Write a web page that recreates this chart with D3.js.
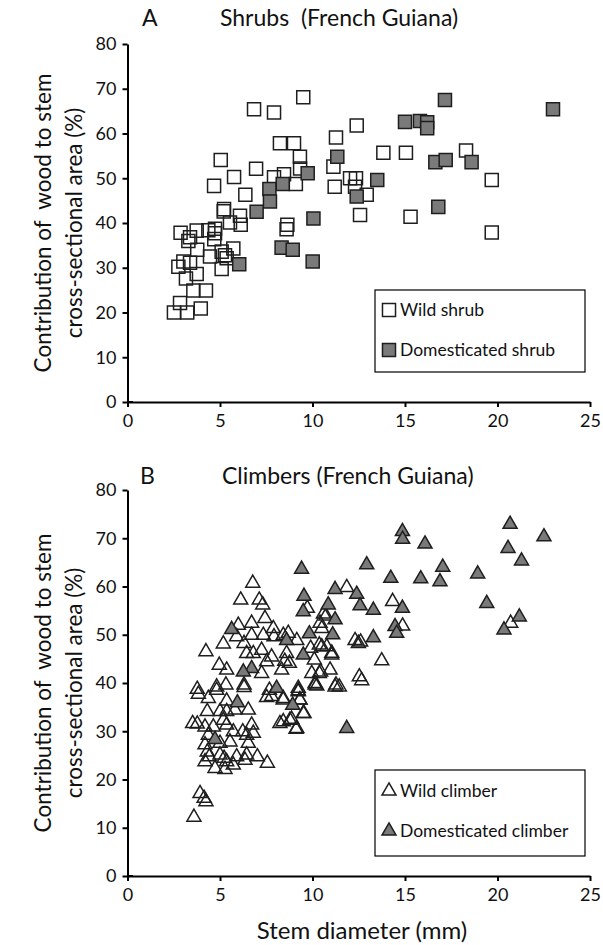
<!DOCTYPE html>
<html><head><meta charset="utf-8">
<script src="https://cdn.jsdelivr.net/npm/d3@7/dist/d3.min.js"></script>
<style>
html,body{margin:0;padding:0;background:#fff;}
text{font-family:Lato,"Open Sans",sans-serif;fill:#111;}
</style></head>
<body><svg id="c" width="603" height="945"></svg>
<script>
// ---------- DATA ----------
const xTicks = [0, 5, 10, 15, 20, 25];
const yTicks = [0, 10, 20, 30, 40, 50, 60, 70, 80];
const yTitle1 = "Contribution of  wood to stem";
const yTitle2 = "cross-sectional area (%)";
const xTitle = "Stem diameter (mm)";
const titleA = "Shrubs  (French Guiana)";
const titleB = "Climbers (French Guiana)";
const legendA = ["Wild shrub", "Domesticated shrub"];
const legendB = ["Wild climber", "Domesticated climber"];

const shrubWild = [[9.5,68.1],[6.84,65.4],[7.92,64.7],[8.24,57.8],[9.0,57.8],[11.27,59.1],[12.39,61.8],[9.32,54.8],[5.04,54.1],[6.95,52.1],[11.13,52.6],[9.33,52.2],[5.76,50.3],[7.92,50.2],[8.46,50.9],[9.1,48.7],[4.68,48.3],[11.2,48.1],[12.03,50],[12.35,50],[12.3,48.1],[6.37,46.3],[12.57,41.8],[5.22,43.1],[5.2,42.6],[6.08,41.6],[6.12,39.6],[5.54,40.1],[8.64,39.6],[8.6,38.6],[2.87,37.8],[3.74,38.3],[4.37,38.4],[4.73,38.7],[3.38,36.8],[3.29,36.0],[4.69,36.4],[3.77,34.0],[5.72,34.3],[4.46,32.5],[5.09,33.6],[5.27,32.8],[5.36,32.1],[5.09,29.7],[2.75,30.2],[3.02,31.4],[3.38,31.1],[3.74,28.6],[3.16,27.6],[3.56,24.9],[4.24,24.9],[2.84,22.1],[2.51,20.0],[3.23,20.0],[3.96,20.9],[13.83,55.7],[15.05,55.7],[18.3,56.2],[19.69,49.6],[15.3,41.4],[19.69,37.9],[12.93,46.3],[4.73,37.7]];
const shrubDom = [[11.34,54.8],[9.74,51.1],[8.39,48.7],[7.67,47.6],[7.7,44.8],[6.98,42.5],[10.05,41.0],[12.39,45.9],[17.16,67.5],[23.0,65.4],[15.0,62.6],[15.81,62.8],[16.2,62.5],[16.2,61.2],[16.64,53.6],[17.2,54.1],[18.6,53.6],[13.5,49.6],[16.8,43.6],[6.04,30.8],[8.33,34.5],[8.93,34.0],[10.01,31.4]];

const climberWild = [[11.85,59.8],[14.33,56.9],[14.87,51.8],[20.71,52.4],[13.74,44.6],[12.3,48.8],[12.6,48.5],[10.73,53.9],[10.59,54.3],[11.04,46.2],[10.37,47.9],[10.77,47.5],[10.44,42.3],[10.95,42.7],[10.14,39.6],[11.27,39.6],[12.53,41.3],[12.66,40.5],[9.72,55.5],[10.5,51.3],[10.41,52.4],[10.37,42.0],[10.23,39.4],[11.22,39.2],[11.45,39.2],[11.04,45.8],[10.5,47.5],[12.48,48.2],[9.23,38.2],[9.5,33.7],[9.15,30.6],[8.87,32.5],[9.32,36.5],[8.42,36.5],[8.42,32.0],[8.6,46.1],[8.5,44.5],[9.9,47.2],[10.1,44.8],
[6.77,60.7],[6.12,57.2],[7.12,57.2],[7.31,56.2],[7.43,53.4],[5.99,52.0],[6.71,52.4],[5.18,48.1],[4.24,46.5],[6.3,48.2],[6.71,49.9],[7.34,49.9],[7.88,51.3],[7.92,49.6],[8.42,49.9],[8.69,50.3],[9.15,48.8],[5.9,49.6],[6.44,46.1],[6.8,46.1],[7.25,46.8],[7.79,45.4],[8.75,44.1],[4.96,43.7],[5.36,42.7],[7.25,42.0],[7.52,44.4],[8.33,42.7],[9.96,42.0],[10.14,39.9],[3.77,38.7],[4.82,39.2],[5.32,39.6],[6.3,39.6],[7.67,38.5],[9.23,38.9],
[3.83,37.7],[4.37,36.8],[4.82,38.5],[6.3,39.1],[5.36,36.3],[4.31,34.1],[5.0,34.1],[5.36,34.1],[5.81,34.4],[6.53,34.4],[7.52,37.0],[7.79,37.2],[8.42,36.8],[9.23,38.4],[9.32,36.5],[9.54,33.7],[8.78,32.3],[8.24,31.6],[9.11,30.4],[3.52,31.6],[3.77,31.5],[4.19,30.9],[4.64,30.9],[5.18,32.3],[5.36,31.3],[5.72,29.9],[6.23,29.9],[6.71,31.3],[6.8,29.6],[6.44,29.2],[4.37,29.2],[4.19,27.2],[5.0,27.5],[5.54,27.8],[6.53,27.5],[4.31,25.7],[4.42,24.7],[4.19,23.7],[5.0,25.1],[5.22,24.4],[5.36,23.7],[5.72,23.0],[4.73,22.3],[5.27,22.1],[5.9,24.7],[6.35,24.0],[6.44,25.1],[7.02,24.7],[7.56,23.4],[3.92,17.1],[4.14,16.1],[4.24,15.4],[3.59,12.2]];
const climberDom = [[20.68,72.9],[22.51,70.3],[14.86,71.4],[14.87,69.8],[16.08,68.8],[20.57,67.9],[21.3,65.3],[12.93,64.5],[17.04,64.0],[18.93,62.6],[14.23,61.7],[15.85,61.6],[16.89,61.0],[9.41,63.6],[11.22,59.4],[12.39,58.4],[9.54,58.0],[10.85,56.2],[9.5,54.8],[12.57,56.0],[13.29,55.1],[14.86,55.5],[19.42,56.5],[21.18,53.7],[20.35,51.0],[11.22,53.1],[14.46,51.7],[14.55,50.3],[13.29,49.4],[11.09,50.0],[9.83,50.2],[9.5,45.8],[5.63,51.1],[8.6,48.8],[6.71,43.0],[6.26,42.3],[8.06,38.9],[11.85,30.6],[8.93,35.4],[5.94,35.9],[4.73,28.3]];

// ---------- DRAW ----------
const svg = d3.select("#c");
const gray = "#7a7a7a", stroke = "#1e1e1e";
const FONT = "Lato,'Open Sans',sans-serif";

function axisTitleY(cy) {
  svg.append("text").attr("transform", `translate(51,${cy}) rotate(-90)`)
    .attr("text-anchor", "middle").style("white-space", "pre")
    .attr("font-size", 22.5).text(yTitle1);
  svg.append("text").attr("transform", `translate(82,${cy}) rotate(-90)`)
    .attr("text-anchor", "middle").attr("font-size", 22.5).text(yTitle2);
}

function panel(cfg) {
  const x = d3.scaleLinear().domain([0, 25]).range([127.5, 590]);
  const y = d3.scaleLinear().domain([0, 80]).range([cfg.y0, cfg.y80]);
  const ax = svg.append("g").attr("transform", `translate(0,${cfg.y0})`)
    .call(d3.axisBottom(x).tickValues(xTicks).tickSize(5).tickSizeOuter(0).tickPadding(7));
  const ay = svg.append("g").attr("transform", `translate(127.5,0)`)
    .call(d3.axisLeft(y).tickValues(yTicks).tickSize(5).tickSizeOuter(0).tickPadding(6));
  [ax, ay].forEach(a => {
    a.select(".domain").attr("stroke", "#000").attr("stroke-width", 2);
    a.selectAll(".tick line").attr("stroke", "#000").attr("stroke-width", 2);
    a.selectAll(".tick text").attr("font-size", 18).attr("font-family", FONT).attr("fill", "#111");
  });
  svg.append("line").attr("x1", 127.5).attr("x2", 133).attr("y1", cfg.y0).attr("y2", cfg.y0).attr("stroke", "#000").attr("stroke-width", 2);

  const sym = cfg.shape === "square" ? d3.symbolSquare : d3.symbolTriangle;
  const sz = cfg.shape === "square" ? 170 : 85;
  const gen = d3.symbol().type(sym).size(sz);
  const pts = svg.append("g");
  pts.selectAll(".w").data(cfg.wild).join("path")
    .attr("d", gen).attr("transform", d => `translate(${x(d[0])},${y(d[1])})`)
    .attr("fill", "none").attr("stroke", stroke).attr("stroke-width", 1.5);
  pts.selectAll(".d").data(cfg.dom).join("path")
    .attr("d", gen).attr("transform", d => `translate(${x(d[0])},${y(d[1])})`)
    .attr("fill", gray).attr("stroke", stroke).attr("stroke-width", 1.5);

  svg.append("text").attr("x", cfg.letterX).attr("y", cfg.titleY).attr("font-size", 23).text(cfg.letter);
  svg.append("text").attr("x", cfg.titleX).attr("y", cfg.titleY).attr("font-size", 23).style("white-space", "pre").text(cfg.title);

  const L = cfg.legend;
  svg.append("rect").attr("x", L.x).attr("y", L.y).attr("width", L.w).attr("height", L.h)
    .attr("fill", "#fff").attr("stroke", "#000").attr("stroke-width", 1.2);
  cfg.labels.forEach((t, i) => {
    const cy = L.y + L.row[i];
    svg.append("path").attr("d", gen).attr("transform", `translate(${L.x + 14},${cy})`)
      .attr("fill", i ? gray : "#fff").attr("stroke", stroke).attr("stroke-width", 1.5);
    svg.append("text").attr("x", L.x + 25).attr("y", cy + 6).attr("font-size", 17.5).text(t);
  });
  axisTitleY((cfg.y0 + cfg.y80) / 2);
}

panel({y0: 402, y80: 44, shape: "square", wild: shrubWild, dom: shrubDom,
  letter: "A", letterX: 142, title: titleA, titleX: 220, titleY: 26,
  legend: {x: 375, y: 290, w: 210, h: 82, row: [20, 60]}, labels: legendA});
panel({y0: 876, y80: 490, shape: "triangle", wild: climberWild, dom: climberDom,
  letter: "B", letterX: 140, title: titleB, titleX: 222, titleY: 484,
  legend: {x: 375, y: 770, w: 210, h: 86, row: [21, 61]}, labels: legendB});

svg.append("text").attr("x", 362).attr("y", 939).attr("text-anchor", "middle").attr("font-size", 24).text(xTitle);
</script></body></html>
